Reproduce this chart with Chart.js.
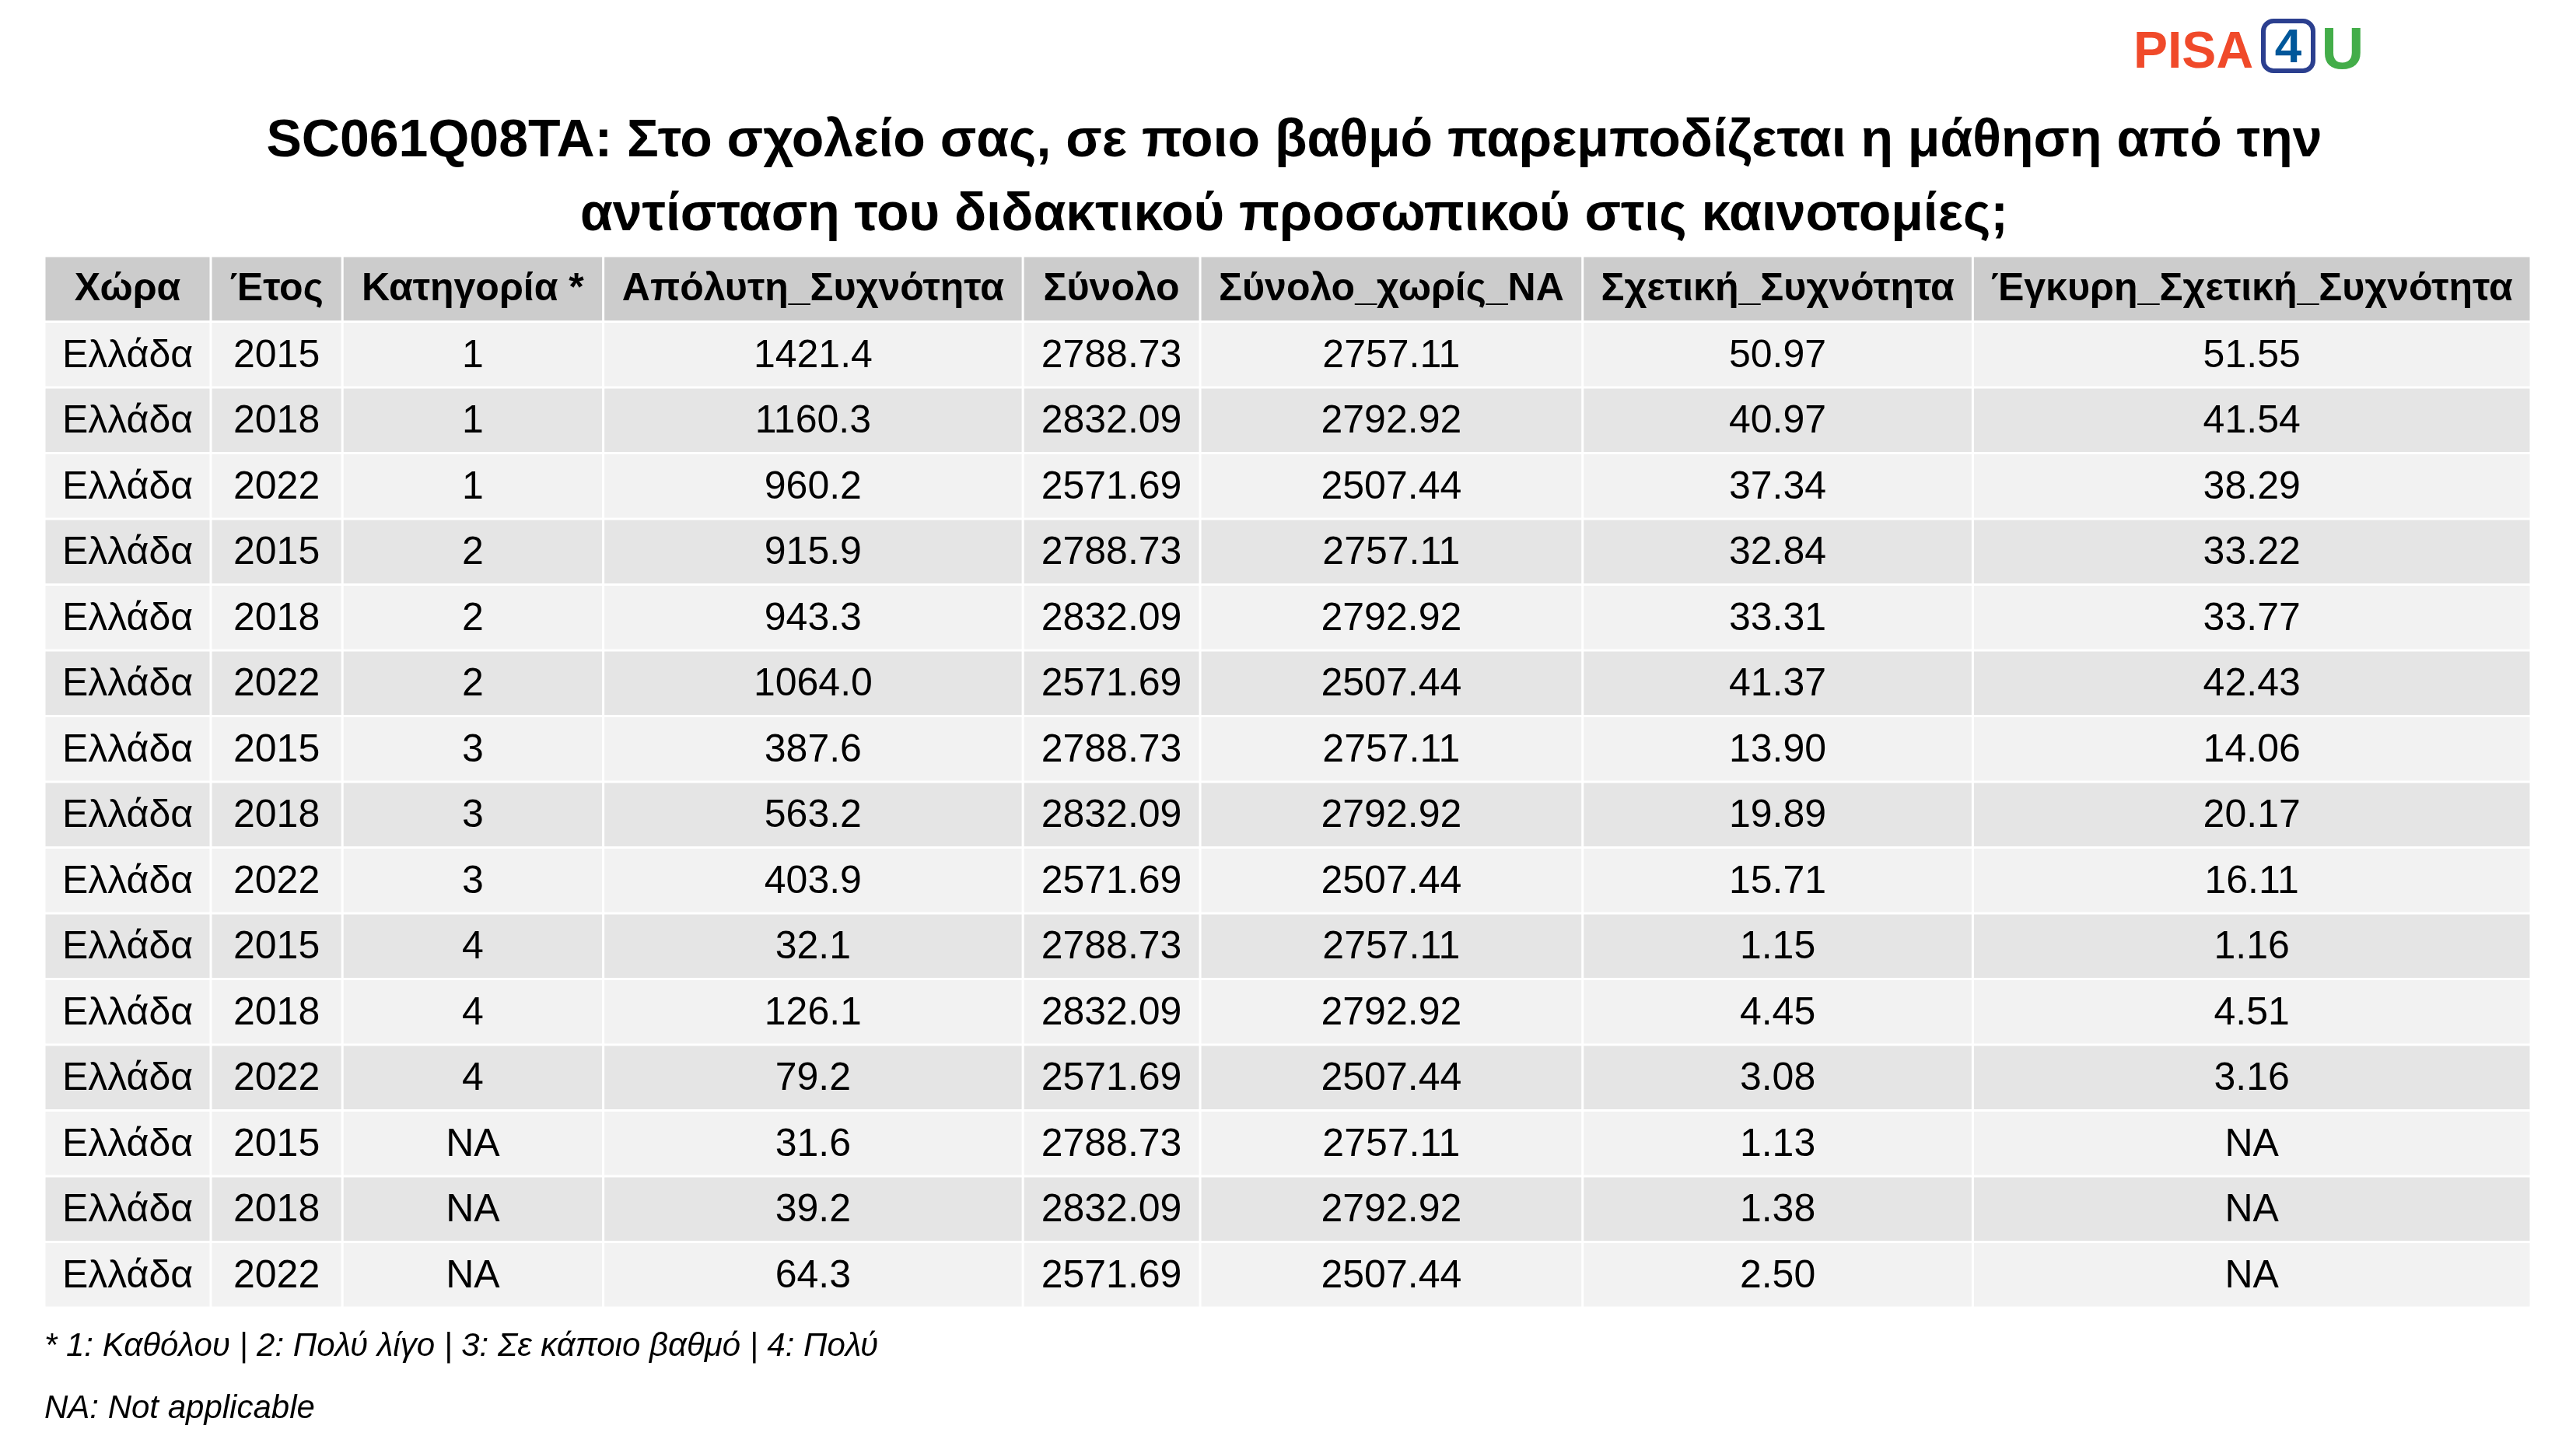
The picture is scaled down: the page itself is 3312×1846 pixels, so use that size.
<!DOCTYPE html>
<html><head><meta charset="utf-8">
<script src="https://cdn.jsdelivr.net/npm/chart.js@4"></script>
<style>html,body{margin:0;padding:0;background:#fff}#c{display:block}</style>
</head><body><canvas id="c" width="3312" height="1846"></canvas>
<script>
const headers=["Χώρα","Έτος","Κατηγορία *","Απόλυτη_Συχνότητα","Σύνολο","Σύνολο_χωρίς_NA","Σχετική_Συχνότητα","Έγκυρη_Σχετική_Συχνότητα"];
const country=Array(15).fill("Ελλάδα");
const years=["2015","2018","2022","2015","2018","2022","2015","2018","2022","2015","2018","2022","2015","2018","2022"];
const category=["1","1","1","2","2","2","3","3","3","4","4","4","NA","NA","NA"];
const absFreq=["1421.4","1160.3","960.2","915.9","943.3","1064.0","387.6","563.2","403.9","32.1","126.1","79.2","31.6","39.2","64.3"];
const total=["2788.73","2832.09","2571.69","2788.73","2832.09","2571.69","2788.73","2832.09","2571.69","2788.73","2832.09","2571.69","2788.73","2832.09","2571.69"];
const totalNoNA=["2757.11","2792.92","2507.44","2757.11","2792.92","2507.44","2757.11","2792.92","2507.44","2757.11","2792.92","2507.44","2757.11","2792.92","2507.44"];
const relFreq=["50.97","40.97","37.34","32.84","33.31","41.37","13.90","19.89","15.71","1.15","4.45","3.08","1.13","1.38","2.50"];
const validRel=["51.55","41.54","38.29","33.22","33.77","42.43","14.06","20.17","16.11","1.16","4.51","3.16","NA","NA","NA"];
const colEdges=[0,215,385,722,1264,1493,1987,2491,3212];
const rowLabels=["header"].concat(years.map((y,i)=>"r"+i));
const columns=[country,years,category,absFreq,total,totalNoNA,relFreq,validRel];
const F='"Liberation Sans", Arial, sans-serif';

const tablePlugin={id:'table',afterDraw(ch){
  const c=ch.ctx,xs=ch.scales.x,ys=ch.scales.y;
  const step=ys.getPixelForValue(1)-ys.getPixelForValue(0);
  c.save();
  c.textAlign='center';c.textBaseline='middle';
  for(let r=0;r<rowLabels.length;r++){
    const cy=ys.getPixelForValue(r),top=cy-step/2,h=step;
    for(let k=0;k<8;k++){
      const x0=xs.getPixelForValue(colEdges[k]),x1=xs.getPixelForValue(colEdges[k+1]);
      c.fillStyle=r===0?'#cccccc':(r%2===1?'#f2f2f2':'#e5e5e5');
      c.fillRect(x0+1.5,top+1.5,x1-x0-3,h-3);
      c.fillStyle='#000';
      if(r===0){c.font='bold 50px '+F;c.fillText(headers[k],(x0+x1)/2,cy+1);}
      else{c.font='50px '+F;c.fillText(columns[k][r-1],(x0+x1)/2,cy+2);}
    }
  }
  c.font='bold 68px '+F;c.fillStyle='#000';
  c.fillText("SC061Q08TA: Στο σχολείο σας, σε ποιο βαθμό παρεμποδίζεται η μάθηση από την",1664,182);
  c.fillText("αντίσταση του διδακτικού προσωπικού στις καινοτομίες;",1664,277);
  c.textAlign='left';c.font='italic 42px '+F;
  c.fillText("* 1: Καθόλου | 2: Πολύ λίγο | 3: Σε κάποιο βαθμό | 4: Πολύ",57,1731);
  c.fillText("NA: Not applicable",57,1811);
  c.font='bold 66px '+F;c.textBaseline='alphabetic';
  c.fillStyle='#f04a2a';c.fillText("PISA",2743,87);
  c.strokeStyle='#2b3f8f';c.lineWidth=6;
  c.beginPath();c.roundRect(2910,27,64,64,13);c.stroke();
  c.fillStyle='#00579a';c.font='bold 62px '+F;c.textAlign='center';c.fillText("4",2942,80);
  c.fillStyle='#43ad49';c.font='bold 76px '+F;c.fillText("U",3012,88);
  c.restore();
}};

new Chart(document.getElementById('c'),{
  type:'bar',
  data:{labels:rowLabels,datasets:[{data:[],backgroundColor:'rgba(0,0,0,0)'}]},
  options:{responsive:false,animation:false,devicePixelRatio:1,indexAxis:'y',
    layout:{padding:{left:57,right:58,top:329,bottom:165}},
    plugins:{legend:{display:false},tooltip:{enabled:false}},
    scales:{x:{type:'linear',min:0,max:3212,display:false},
            y:{type:'category',offset:true,display:false,grid:{display:false}}}},
  plugins:[tablePlugin]
});
</script></body></html>
